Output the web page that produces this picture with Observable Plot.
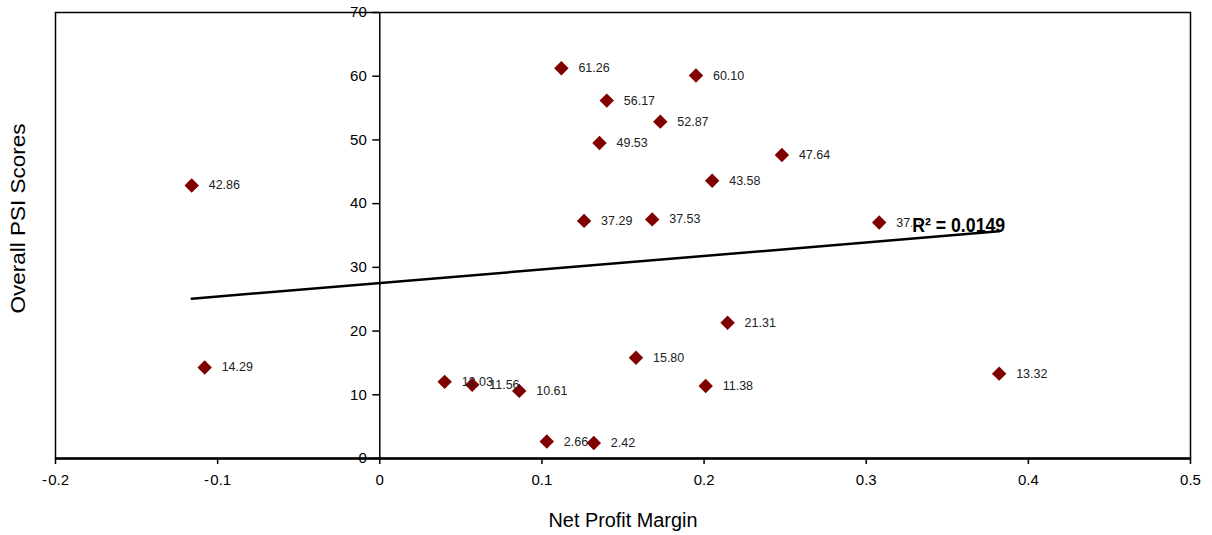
<!DOCTYPE html>
<html>
<head>
<meta charset="utf-8">
<script src="https://cdn.jsdelivr.net/npm/d3@7"></script>
<script src="https://cdn.jsdelivr.net/npm/@observablehq/plot@0.6"></script>
<style>
  html, body { margin: 0; padding: 0; background: #fff; }
</style>
</head>
<body>
<div id="chart"></div>
<script>
// Net profit margin (x) and overall PSI score (y) for each company
const netProfitMargin = [-0.116, -0.108, 0.040, 0.057, 0.086, 0.103, 0.132, 0.112, 0.140, 0.1355, 0.126, 0.168, 0.173, 0.158, 0.195, 0.205, 0.201, 0.2145, 0.248, 0.308, 0.382];
const psiScores = [42.86, 14.29, 12.03, 11.56, 10.61, 2.66, 2.42, 61.26, 56.17, 49.53, 37.29, 37.53, 52.87, 15.80, 60.10, 43.58, 11.38, 21.31, 47.64, 37.04, 13.32];
const xTicks = [-0.2, -0.1, 0, 0.1, 0.2, 0.3, 0.4, 0.5];
const yTicks = [0, 10, 20, 30, 40, 50, 60, 70];
const r2Text = "R² = 0.0149";
const xTitle = "Net Profit Margin";
const yTitle = "Overall PSI Scores";

const data = netProfitMargin.map((x, i) => ({x, y: psiScores[i], label: psiScores[i].toFixed(2)}));

// least squares fit (for placing R² label at the end of the trend line)
const mx = d3.mean(data, d => d.x), my = d3.mean(data, d => d.y);
const sxy = d3.sum(data, d => (d.x - mx) * (d.y - my));
const sxx = d3.sum(data, d => (d.x - mx) ** 2);
const slope = sxy / sxx, intercept = my - slope * mx;
const xMax = d3.max(data, d => d.x);
const r2Anchor = [{x: xMax, y: intercept + slope * xMax, text: r2Text}];

const sans = "'Liberation Sans', Arial, sans-serif";

const chart = Plot.plot({
  width: 1212,
  height: 535,
  marginLeft: 55,
  marginRight: 22,
  marginTop: 12,
  marginBottom: 77,
  style: {fontFamily: sans, fontSize: "15px", color: "#000", background: "#fff"},
  x: {domain: [-0.2, 0.5], label: null},
  y: {domain: [0, 70], axis: null, label: null},
  marks: [
    Plot.frame({stroke: "#000", strokeWidth: 1.5}),
    Plot.ruleY([0], {stroke: "#000", strokeWidth: 2.5}),
    Plot.axisX(xTicks, {
      tickSize: 6, tickPadding: 10, strokeWidth: 1.5, fontSize: 15,
      tickFormat: d => (d < 0 ? "-\u200A" : "") + Math.abs(d)
    }),
    Plot.ruleX([0], {stroke: "#000", strokeWidth: 1.5}),
    Plot.ruleY(yTicks, {x1: 0, x2: 0, insetLeft: -7, stroke: "#000", strokeWidth: 1.5}),
    Plot.text(yTicks, {x: 0, y: d => d, dx: -13, textAnchor: "end", fontSize: 15}),
    Plot.dot(data, {x: "x", y: "y", symbol: "diamond2", r: 6.5, fill: "#800000", stroke: "none"}),
    Plot.text(data, {x: "x", y: "y", text: "label", dx: 17, textAnchor: "start", fontSize: 12.5, fill: "#222"}),
    Plot.text(r2Anchor, {x: "x", y: "y", text: "text", textAnchor: "end", dx: 6, dy: -6,
      fontSize: 21, fontWeight: "bold", stroke: "#fff", strokeWidth: 3, fill: "#000", className: "fit-r2"}),
    Plot.linearRegressionY(data, {x: "x", y: "y", ci: 0, stroke: "#000", strokeWidth: 2.5}),
    Plot.text([xTitle], {frameAnchor: "bottom", lineAnchor: "middle", textAnchor: "middle", dy: 62, fontSize: 20, className: "fit-xtitle"}),
    Plot.text([yTitle], {frameAnchor: "left", lineAnchor: "middle", textAnchor: "middle", rotate: -90, dx: -37, dy: -17, fontSize: 20, className: "fit-ytitle"})
  ]
});
document.getElementById("chart").append(chart);

// condense the narrow-font texts to the widths they take in the reference
const fitWidths = {"fit-r2": 93, "fit-xtitle": 149, "fit-ytitle": 190};
for (const [cls, w] of Object.entries(fitWidths)) {
  chart.querySelectorAll(`g.${cls} text`).forEach(t => {
    t.setAttribute("textLength", w);
    t.setAttribute("lengthAdjust", "spacingAndGlyphs");
  });
}
</script>
</body>
</html>
